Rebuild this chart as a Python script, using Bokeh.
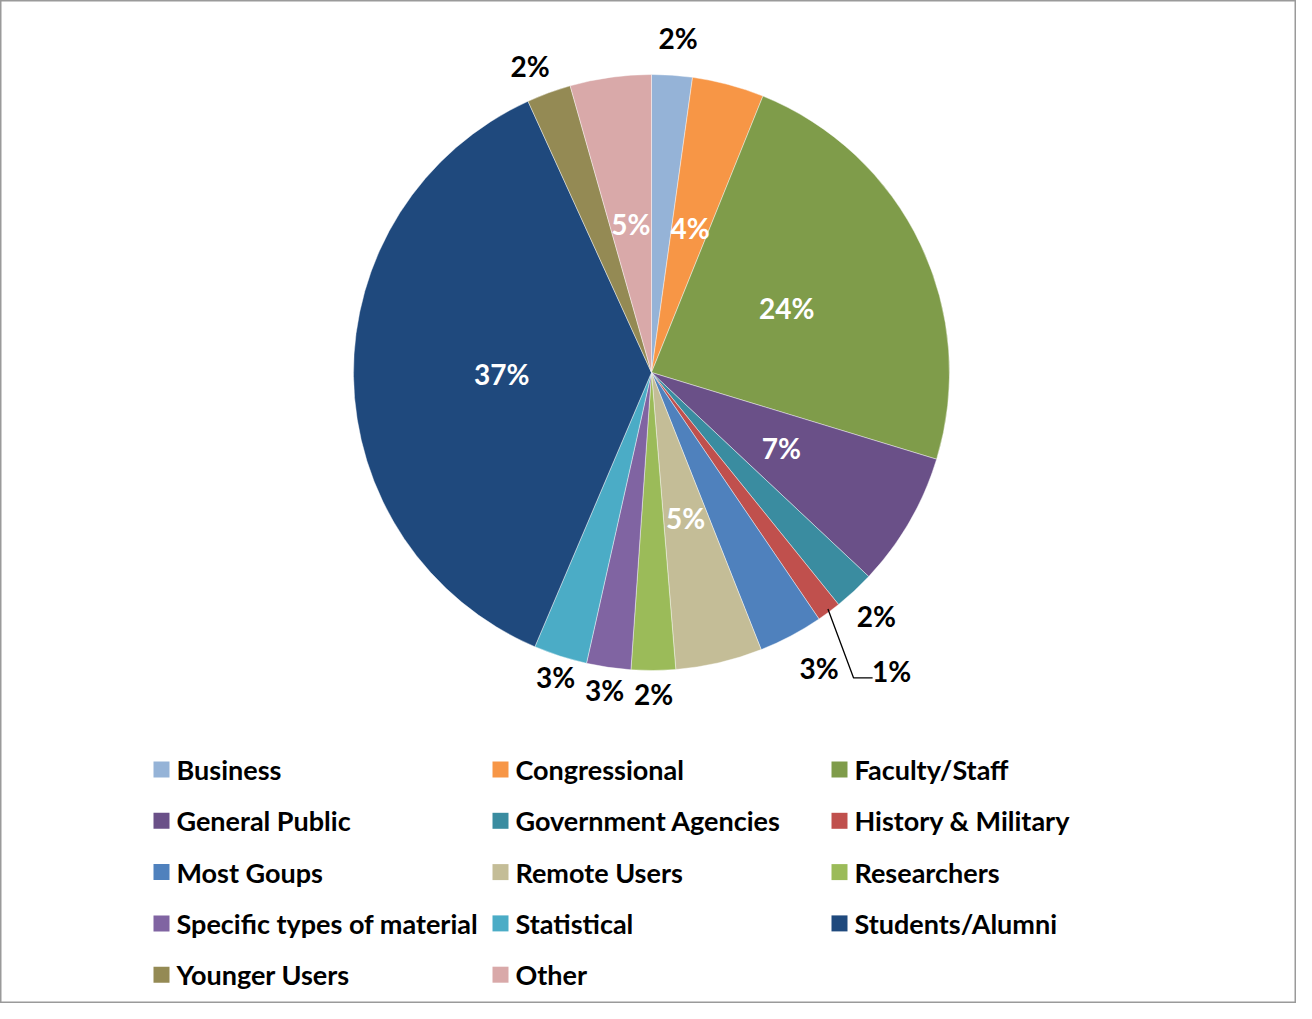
import math
from bokeh.plotting import figure
from bokeh.models import Range1d, ColumnDataSource
from bokeh.core.properties import value
from bokeh.embed import file_html
from bokeh.resources import INLINE

# ---- data ----
categories = ["Business", "Congressional", "Faculty/Staff", "General Public",
              "Government Agencies", "History & Military", "Most Goups",
              "Remote Users", "Researchers", "Specific types of material",
              "Statistical", "Students/Alumni", "Younger Users", "Other"]
shares = [2.2, 3.9, 23.6, 7.3, 2.2, 1.3, 3.5, 4.7, 2.4, 2.4, 2.9, 36.8, 2.4, 4.4]
labels = ["2%", "4%", "24%", "7%", "2%", "1%", "3%", "5%", "2%", "3%", "3%", "37%", "2%", "5%"]
colors = ["#95B3D7", "#F79646", "#7F9C4A", "#6A5088", "#3A8CA0", "#C0504D", "#4F81BD",
          "#C4BD97", "#9BBB59", "#8064A2", "#4BACC6", "#1F497D", "#948A54", "#D9A9A9"]
# label style: "in" = white label inside, "out" = black label outside, "lead" = with leader line
label_style = ["out", "in", "in", "in", "out", "lead", "out", "in", "out", "out", "out", "in", "out", "in"]

W, H = 1296, 1003
FONT = "Lato"

p = figure(width=W, height=H, output_backend="svg", toolbar_location=None,
           x_range=Range1d(8, 8 + W), y_range=Range1d(0, H), min_border=0,
           outline_line_color="#9a9a9a", outline_line_width=2)
p.axis.visible = False
p.grid.visible = False
p.background_fill_color = "white"


def sy(y):  # screen y -> data y
    return 8 + H - y


cx, cy, R = 659, sy(380), 298
total = sum(shares)
starts, ends, mids = [], [], []
c = 0.0
for s in shares:
    c0 = c / total
    c += s
    c1 = c / total
    starts.append(math.pi / 2 - 2 * math.pi * c1)
    ends.append(math.pi / 2 - 2 * math.pi * c0)
    mids.append(math.pi / 2 - 2 * math.pi * (c0 + c1) / 2)

src = ColumnDataSource(dict(start=starts, end=ends, color=colors))
p.wedge(x=cx, y=cy, radius=R, start_angle="start", end_angle="end", color="color",
        line_color="white", line_width=0.6, line_alpha=0.7, source=src)

# ---- data labels ----
rfac = {"in": 0.503, "out": 1.095, "lead": 1.28}
nudge = {6: (15, -7), 5: (13, 8), 12: (-9, 0), 0: (4, 9), 4: (3, -4),
         8: (0, 5), 9: (0, 5), 10: (4, 6)}
lx, ly, lc = [], [], []
for i, (m, st) in enumerate(zip(mids, label_style)):
    r = R * rfac[st]
    x = cx + r * math.cos(m)
    y = cy + r * math.sin(m)
    dx, dy = nudge.get(i, (0, 0))
    lx.append(x + dx)
    ly.append(y + dy)
    lc.append("white" if st == "in" else "black")
    if st == "lead":
        ex = cx + R * math.cos(m)
        ey = cy + R * math.sin(m)
        bx = x + dx - 38
        by = y + dy - 7
        p.line([ex - 1, bx, bx + 19], [ey + 3, by, by], line_color="black", line_width=1.3)

p.text(x=lx, y=ly, text=labels, text_color=lc, text_font=value(FONT),
       text_font_style="bold", text_font_size="28px", text_align="center",
       text_baseline="middle")

# ---- legend ----
col_x = [161, 500, 839]
row_y0, row_dy = 777, 51.3
sq = 16
gx, gy, tx, ty = [], [], [], []
for i, name in enumerate(categories):
    r_, c_ = divmod(i, 3)
    x0 = col_x[c_]
    y0 = row_y0 + r_ * row_dy
    gx.append(x0 + sq / 2)
    gy.append(sy(y0))
    tx.append(x0 + 23)
    ty.append(sy(y0))
p.rect(x=gx, y=gy, width=sq, height=sq, color=colors, line_color=None)
p.text(x=tx, y=ty, text=categories, text_color="black", text_font=value(FONT),
       text_font_style="bold", text_font_size="27px", text_align="left",
       text_baseline="middle")

open("out.html", "w").write(file_html(p, INLINE))
